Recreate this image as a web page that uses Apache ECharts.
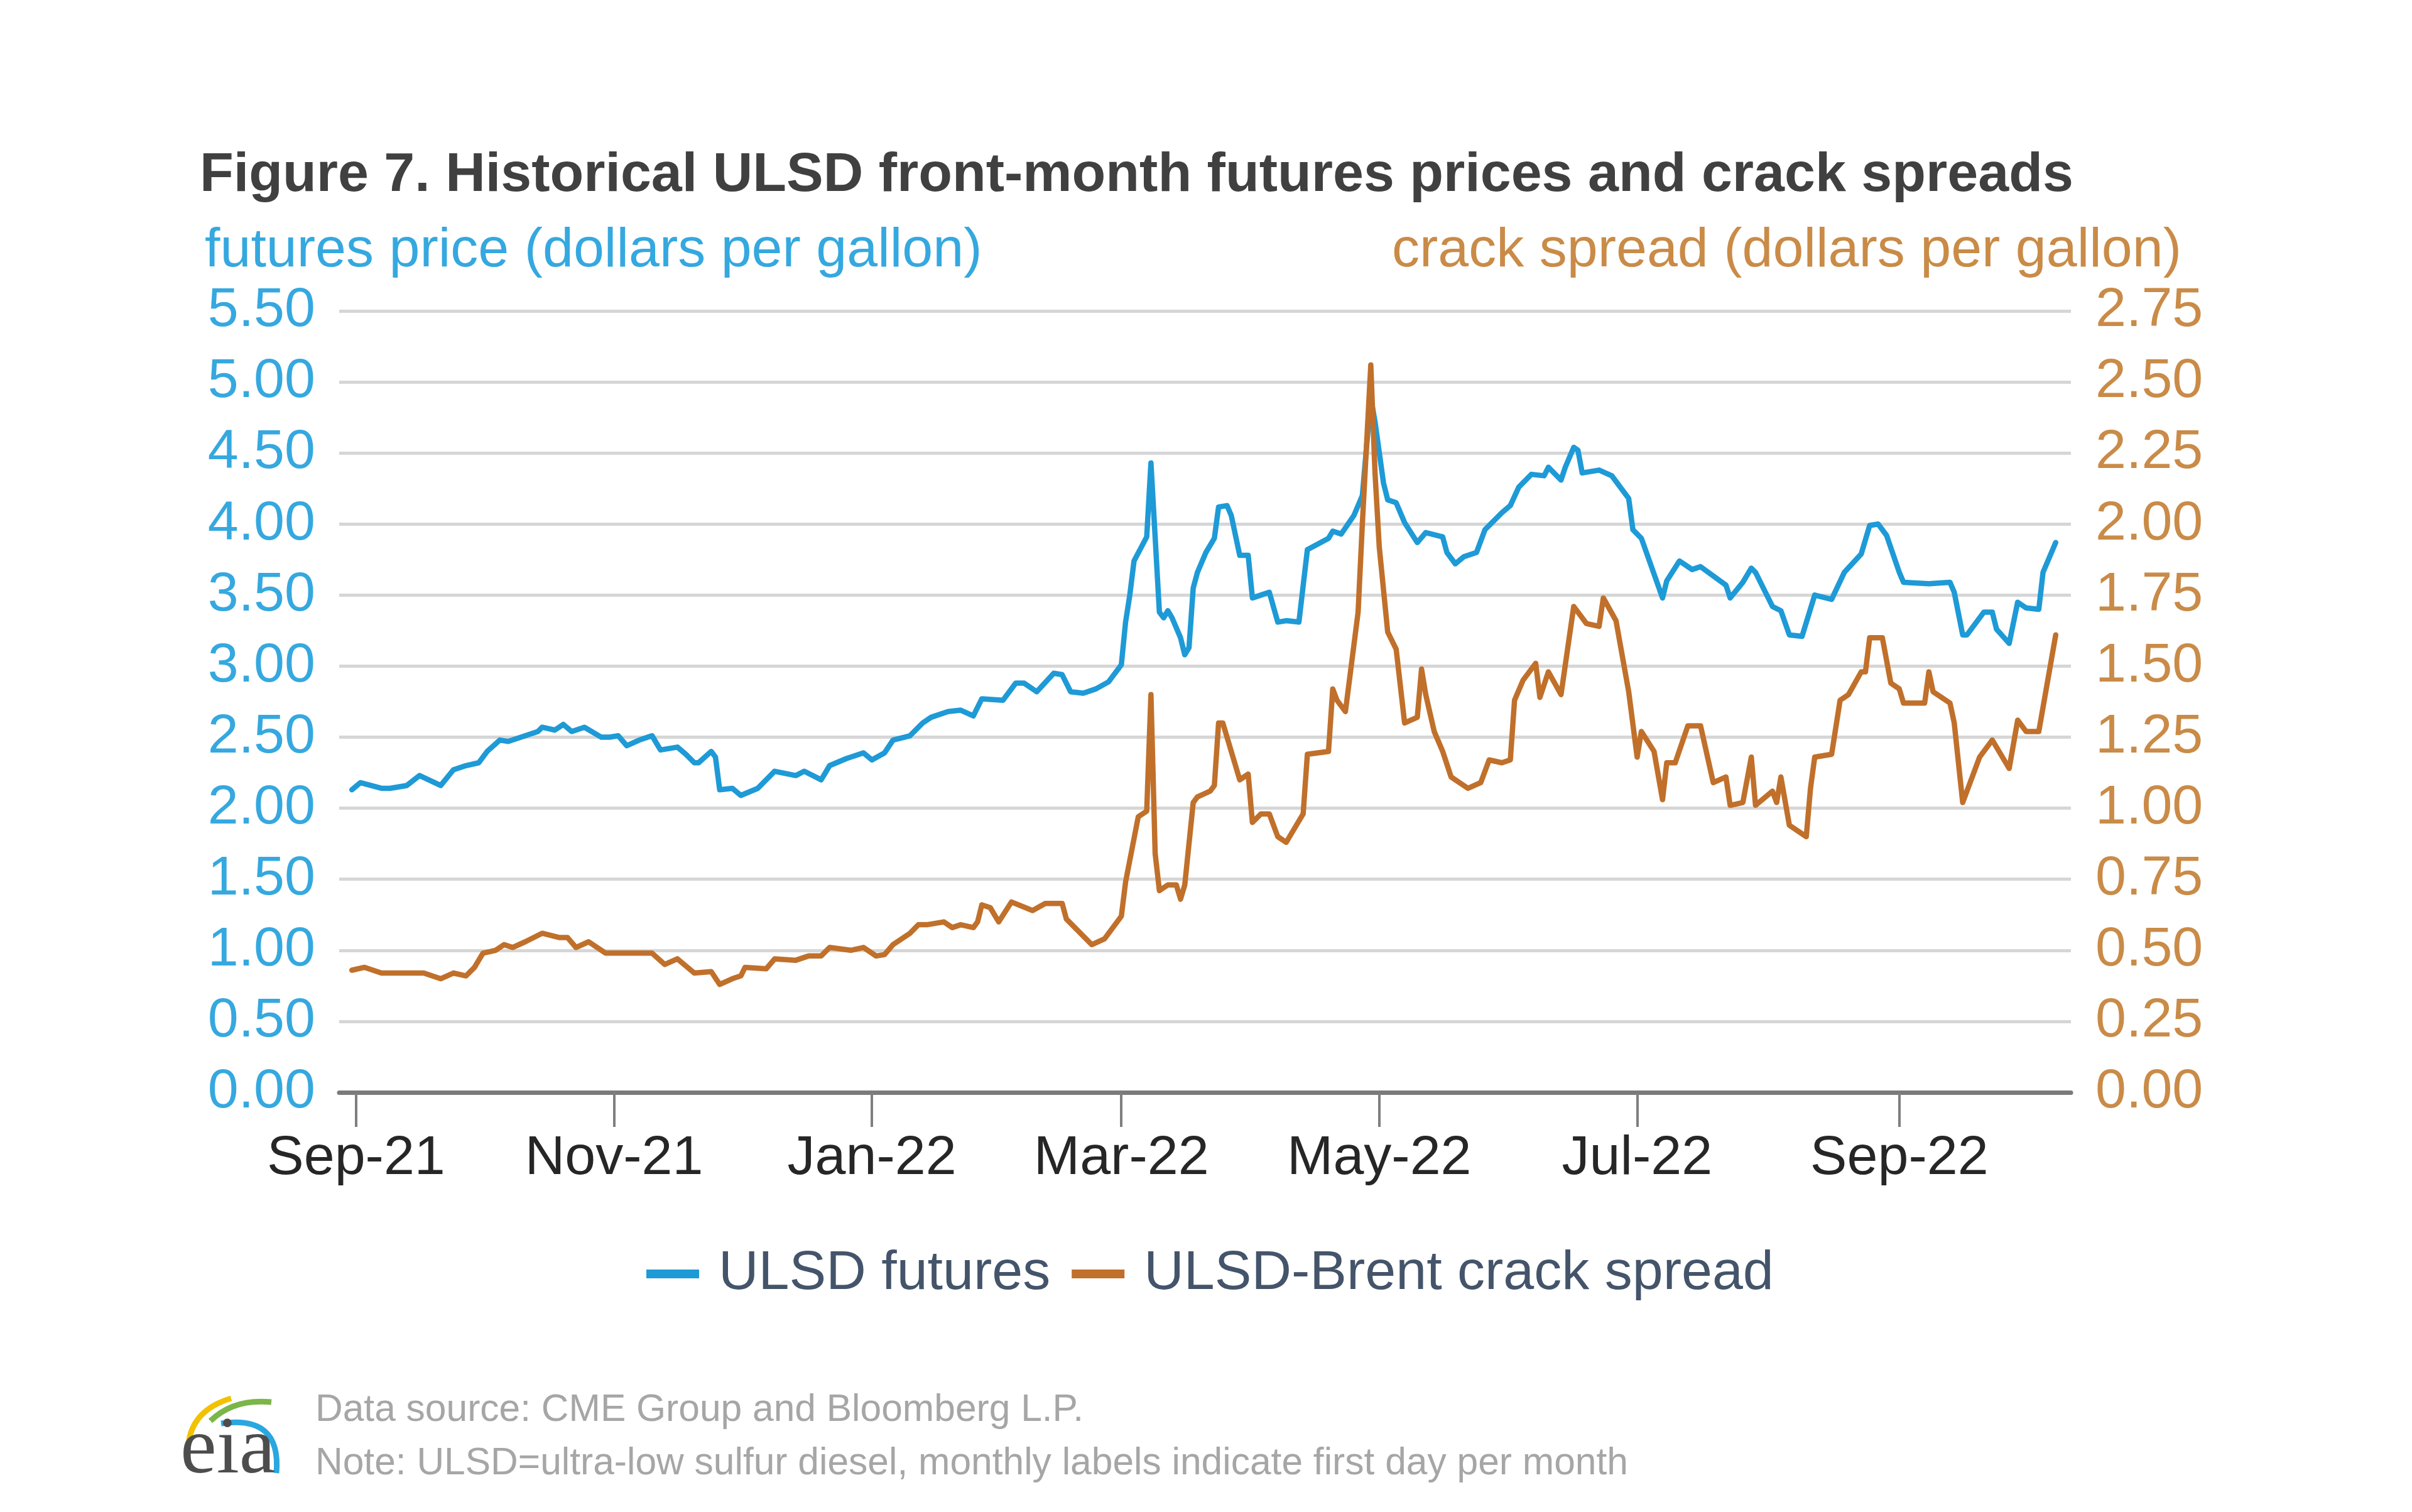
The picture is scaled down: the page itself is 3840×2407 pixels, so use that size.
<!DOCTYPE html>
<html>
<head>
<meta charset="utf-8">
<style>
  html, body { margin: 0; padding: 0; background: #ffffff; }
  #chart { width: 3840px; height: 2407px; }
</style>
<script src="https://cdn.jsdelivr.net/npm/echarts@6/dist/echarts.min.js"></script>
</head>
<body>
<div id="chart"></div>
<script>
// ---- Data ----
const tickDates  = ['2021-09-01','2021-11-01','2022-01-01','2022-03-01','2022-05-01','2022-07-01','2022-09-01'];
const tickLabels = ['Sep-21','Nov-21','Jan-22','Mar-22','May-22','Jul-22','Sep-22'];

const futuresDates = [
'2021-08-31','2021-09-02','2021-09-07','2021-09-09','2021-09-13','2021-09-16','2021-09-21','2021-09-24','2021-09-27','2021-09-30',
'2021-10-02','2021-10-05','2021-10-07','2021-10-10','2021-10-12','2021-10-14','2021-10-15','2021-10-18','2021-10-20','2021-10-22',
'2021-10-25','2021-10-29','2021-10-31','2021-11-02','2021-11-04','2021-11-07','2021-11-10','2021-11-12','2021-11-16','2021-11-18',
'2021-11-20','2021-11-21','2021-11-24','2021-11-25','2021-11-26','2021-11-29','2021-12-01','2021-12-05','2021-12-09','2021-12-14',
'2021-12-16','2021-12-20','2021-12-22','2021-12-26','2021-12-30','2022-01-01','2022-01-04','2022-01-06','2022-01-10','2022-01-13',
'2022-01-15','2022-01-19','2022-01-22','2022-01-25','2022-01-27','2022-02-01','2022-02-04','2022-02-06','2022-02-09','2022-02-13',
'2022-02-15','2022-02-17','2022-02-20','2022-02-23','2022-02-26','2022-03-01','2022-03-02','2022-03-03','2022-03-04','2022-03-07',
'2022-03-08','2022-03-10','2022-03-11','2022-03-12','2022-03-13','2022-03-15','2022-03-16','2022-03-17','2022-03-18','2022-03-19',
'2022-03-21','2022-03-23','2022-03-24','2022-03-26','2022-03-27','2022-03-29','2022-03-31','2022-04-01','2022-04-03','2022-04-05',
'2022-04-07','2022-04-09','2022-04-12','2022-04-14','2022-04-19','2022-04-20','2022-04-22','2022-04-25','2022-04-27','2022-04-29',
'2022-04-30','2022-05-02','2022-05-03','2022-05-05','2022-05-07','2022-05-10','2022-05-12','2022-05-16','2022-05-17','2022-05-19',
'2022-05-21','2022-05-24','2022-05-26','2022-05-30','2022-06-01','2022-06-03','2022-06-06','2022-06-09','2022-06-10','2022-06-13',
'2022-06-14','2022-06-16','2022-06-17','2022-06-18','2022-06-22','2022-06-25','2022-06-29','2022-06-30','2022-07-02','2022-07-07',
'2022-07-08','2022-07-11','2022-07-14','2022-07-16','2022-07-22','2022-07-23','2022-07-26','2022-07-28','2022-07-29','2022-08-02',
'2022-08-04','2022-08-06','2022-08-09','2022-08-12','2022-08-16','2022-08-19','2022-08-23','2022-08-25','2022-08-27','2022-08-29',
'2022-09-01','2022-09-02','2022-09-08','2022-09-13','2022-09-14','2022-09-16','2022-09-17','2022-09-21','2022-09-23','2022-09-24',
'2022-09-27','2022-09-29','2022-10-01','2022-10-04','2022-10-05','2022-10-08'
];
const futuresValues = [
2.13,2.18,2.14,2.14,2.16,2.23,2.16,2.27,2.30,2.32,
2.40,2.48,2.47,2.50,2.52,2.54,2.57,2.55,2.59,2.54,
2.57,2.50,2.50,2.51,2.44,2.48,2.51,2.41,2.43,2.38,
2.32,2.32,2.40,2.36,2.13,2.14,2.09,2.14,2.26,2.23,
2.26,2.20,2.30,2.35,2.39,2.34,2.39,2.48,2.51,2.60,
2.64,2.68,2.69,2.65,2.77,2.76,2.88,2.88,2.82,2.95,
2.94,2.82,2.81,2.84,2.89,3.01,3.31,3.50,3.74,3.91,
4.43,3.38,3.34,3.39,3.34,3.20,3.08,3.13,3.55,3.66,
3.80,3.90,4.12,4.13,4.06,3.78,3.78,3.48,3.50,3.52,
3.31,3.32,3.31,3.82,3.90,3.95,3.93,4.06,4.20,4.89,
4.72,4.29,4.17,4.15,4.01,3.87,3.94,3.91,3.80,3.72,
3.77,3.80,3.96,4.08,4.13,4.26,4.35,4.34,4.40,4.31,
4.40,4.54,4.52,4.36,4.38,4.34,4.18,3.96,3.90,3.48,
3.60,3.74,3.68,3.70,3.57,3.48,3.59,3.69,3.66,3.42,
3.39,3.22,3.21,3.50,3.47,3.66,3.79,3.99,4.00,3.92,
3.66,3.59,3.58,3.59,3.52,3.22,3.22,3.38,3.38,3.26,
3.16,3.45,3.41,3.40,3.66,3.87
];

const crackDates = [
'2021-08-31','2021-09-03','2021-09-07','2021-09-17','2021-09-21','2021-09-24','2021-09-27','2021-09-29','2021-10-01','2021-10-04',
'2021-10-06','2021-10-08','2021-10-11','2021-10-15','2021-10-19','2021-10-21','2021-10-23','2021-10-26','2021-10-30','2021-11-06',
'2021-11-10','2021-11-13','2021-11-16','2021-11-20','2021-11-24','2021-11-26','2021-11-29','2021-12-01','2021-12-02','2021-12-07',
'2021-12-09','2021-12-14','2021-12-17','2021-12-20','2021-12-22','2021-12-27','2021-12-30','2022-01-02','2022-01-04','2022-01-06',
'2022-01-10','2022-01-12','2022-01-14','2022-01-18','2022-01-20','2022-01-22','2022-01-25','2022-01-26','2022-01-27','2022-01-29',
'2022-01-31','2022-02-03','2022-02-08','2022-02-11','2022-02-15','2022-02-16','2022-02-22','2022-02-25','2022-03-01','2022-03-02',
'2022-03-05','2022-03-07','2022-03-08','2022-03-09','2022-03-10','2022-03-12','2022-03-14','2022-03-15','2022-03-16','2022-03-18',
'2022-03-19','2022-03-22','2022-03-23','2022-03-24','2022-03-25','2022-03-29','2022-03-31','2022-04-01','2022-04-03','2022-04-05',
'2022-04-07','2022-04-09','2022-04-13','2022-04-14','2022-04-19','2022-04-20','2022-04-21','2022-04-23','2022-04-26','2022-04-27',
'2022-04-29','2022-04-30','2022-05-01','2022-05-03','2022-05-05','2022-05-07','2022-05-10','2022-05-11','2022-05-12','2022-05-14',
'2022-05-16','2022-05-18','2022-05-20','2022-05-22','2022-05-25','2022-05-27','2022-05-30','2022-06-01','2022-06-02','2022-06-04',
'2022-06-07','2022-06-08','2022-06-10','2022-06-13','2022-06-16','2022-06-17','2022-06-19','2022-06-22','2022-06-23','2022-06-26',
'2022-06-29','2022-07-01','2022-07-02','2022-07-05','2022-07-07','2022-07-08','2022-07-10','2022-07-13','2022-07-16','2022-07-19',
'2022-07-22','2022-07-23','2022-07-26','2022-07-28','2022-07-29','2022-08-02','2022-08-03','2022-08-04','2022-08-06','2022-08-10',
'2022-08-11','2022-08-12','2022-08-16','2022-08-18','2022-08-20','2022-08-23','2022-08-24','2022-08-25','2022-08-28','2022-08-30',
'2022-09-01','2022-09-02','2022-09-07','2022-09-08','2022-09-09','2022-09-13','2022-09-14','2022-09-16','2022-09-20','2022-09-23',
'2022-09-27','2022-09-29','2022-10-01','2022-10-04','2022-10-08'
];
const crackValues = [
0.43,0.44,0.42,0.42,0.40,0.42,0.41,0.44,0.49,0.50,
0.52,0.51,0.53,0.56,0.545,0.545,0.51,0.53,0.49,0.49,
0.49,0.45,0.47,0.42,0.425,0.38,0.40,0.41,0.44,0.435,
0.47,0.465,0.48,0.48,0.51,0.50,0.51,0.48,0.485,0.52,
0.56,0.59,0.59,0.60,0.58,0.59,0.58,0.60,0.66,0.65,
0.60,0.67,0.64,0.665,0.665,0.61,0.52,0.54,0.62,0.74,
0.97,0.99,1.40,0.84,0.71,0.73,0.73,0.68,0.73,1.02,
1.04,1.06,1.08,1.30,1.30,1.10,1.12,0.95,0.98,0.98,
0.90,0.88,0.98,1.19,1.20,1.42,1.38,1.34,1.69,2.00,
2.56,2.18,1.92,1.62,1.56,1.30,1.32,1.49,1.40,1.27,
1.20,1.11,1.09,1.07,1.09,1.17,1.16,1.17,1.38,1.45,
1.51,1.39,1.48,1.40,1.71,1.69,1.65,1.64,1.74,1.66,
1.41,1.18,1.27,1.20,1.03,1.16,1.16,1.29,1.29,1.09,
1.11,1.01,1.02,1.18,1.01,1.06,1.02,1.11,0.94,0.90,
1.07,1.18,1.19,1.38,1.40,1.48,1.48,1.60,1.60,1.44,
1.42,1.37,1.37,1.48,1.41,1.37,1.30,1.02,1.18,1.24,
1.14,1.31,1.27,1.27,1.61
];

// ---- Styling ----
const FONT = 'Liberation Sans, Arial, sans-serif';
const BLUE_LINE = '#1E9AD6';
const BLUE_TEXT = '#35A8DF';
const ORANGE_LINE = '#C0702B';
const ORANGE_TEXT = '#C98B47';

function localTs(s) {
  const p = s.split('-').map(Number);
  return new Date(p[0], p[1] - 1, p[2]).getTime();
}
const tickTs = tickDates.map(localTs);
const futuresData = futuresDates.map((d, i) => [localTs(d), futuresValues[i]]);
const crackData = crackDates.map((d, i) => [localTs(d), crackValues[i]]);

const chart = echarts.init(document.getElementById('chart'), null, { renderer: 'canvas' });

const option = {
  backgroundColor: '#ffffff',
  animation: false,
  grid: { left: 540, right: 543, top: 495, bottom: 668, containLabel: false },
  legend: {
    data: ['ULSD futures', 'ULSD-Brent crack spread'],
    left: 1029, top: 1984, padding: 0,
    icon: 'rect', itemWidth: 84, itemHeight: 14, itemGap: 34,
    textStyle: { fontSize: 88, color: '#44546A', fontFamily: FONT, padding: [0, 0, 0, 26] }
  },
  xAxis: {
    type: 'value',
    min: localTs('2021-08-28'),
    max: new Date(2022, 9, 11, 14, 24).getTime(),
    splitLine: { show: false },
    axisLine: { show: true, onZero: false, lineStyle: { color: '#7A7A7A', width: 7 } },
    axisTick: { show: true, customValues: tickTs, length: 55, lineStyle: { color: '#7F7F7F', width: 4 } },
    axisLabel: {
      customValues: tickTs,
      fontSize: 88, fontFamily: FONT, color: '#262626', margin: 62,
      formatter: function (v) { const i = tickTs.indexOf(v); return i >= 0 ? tickLabels[i] : ''; }
    }
  },
  yAxis: [
    {
      type: 'value', min: 0, max: 5.5, interval: 0.5, position: 'left',
      axisLine: { show: false }, axisTick: { show: false },
      splitLine: { show: true, lineStyle: { color: '#D6D6D6', width: 5 } },
      axisLabel: { fontSize: 88, fontFamily: FONT, color: BLUE_TEXT, margin: 38, padding: [16, 0, 0, 0], formatter: v => v.toFixed(2) }
    },
    {
      type: 'value', min: 0, max: 2.75, interval: 0.25, position: 'right',
      axisLine: { show: false }, axisTick: { show: false },
      splitLine: { show: false },
      axisLabel: { fontSize: 88, fontFamily: FONT, color: ORANGE_TEXT, margin: 39, padding: [16, 0, 0, 0], formatter: v => v.toFixed(2) }
    }
  ],
  series: [
    {
      name: 'ULSD futures', type: 'line', yAxisIndex: 0, data: futuresData,
      showSymbol: false, symbol: 'none', color: BLUE_LINE,
      lineStyle: { width: 8.5, color: BLUE_LINE, join: 'round', cap: 'round' }, z: 2
    },
    {
      name: 'ULSD-Brent crack spread', type: 'line', yAxisIndex: 1, data: crackData,
      showSymbol: false, symbol: 'none', color: ORANGE_LINE,
      lineStyle: { width: 8.5, color: ORANGE_LINE, join: 'round', cap: 'round' }, z: 3
    }
  ],
  graphic: [
    { type: 'text', x: 318, y: 280, style: { text: 'Figure 7. Historical ULSD front-month futures prices and crack spreads',
      fontSize: 88, fontWeight: 'bold', fontFamily: FONT, fill: '#404040', align: 'left', verticalAlign: 'middle' } },
    { type: 'text', x: 326, y: 400, style: { text: 'futures price (dollars per gallon)',
      fontSize: 88, fontFamily: FONT, fill: BLUE_TEXT, align: 'left', verticalAlign: 'middle' } },
    { type: 'text', x: 3473, y: 400, style: { text: 'crack spread (dollars per gallon)',
      fontSize: 88, fontFamily: FONT, fill: ORANGE_TEXT, align: 'right', verticalAlign: 'middle' } },
    { type: 'text', x: 502, y: 2245, style: { text: 'Data source: CME Group and Bloomberg L.P.',
      fontSize: 60.5, fontFamily: FONT, fill: '#A6A6A6', align: 'left', verticalAlign: 'middle' } },
    { type: 'text', x: 502, y: 2330, style: { text: 'Note: ULSD=ultra-low sulfur diesel, monthly labels indicate first day per month',
      fontSize: 60.5, fontFamily: FONT, fill: '#A6A6A6', align: 'left', verticalAlign: 'middle' } },
    // eia logo
    { type: 'bezierCurve', shape: { x1: 300, y1: 2300, cpx1: 305, cpy1: 2245, x2: 368, y2: 2226 },
      style: { stroke: '#F2C200', lineWidth: 9, fill: null } },
    { type: 'bezierCurve', shape: { x1: 335, y1: 2262, cpx1: 372, cpy1: 2226, x2: 432, y2: 2232 },
      style: { stroke: '#7AB648', lineWidth: 9, fill: null } },
    { type: 'bezierCurve', shape: { x1: 352, y1: 2266, cpx1: 448, cpy1: 2252, x2: 440, y2: 2345 },
      style: { stroke: '#2AA7DF', lineWidth: 9, fill: null } },
    { type: 'text', x: 287, y: 2310, style: { text: 'eia',
      fontSize: 130, fontFamily: 'Liberation Serif, serif', fill: '#4D4D4D', align: 'left', verticalAlign: 'middle' } }
  ]
};
chart.setOption(option);
</script>
</body>
</html>
